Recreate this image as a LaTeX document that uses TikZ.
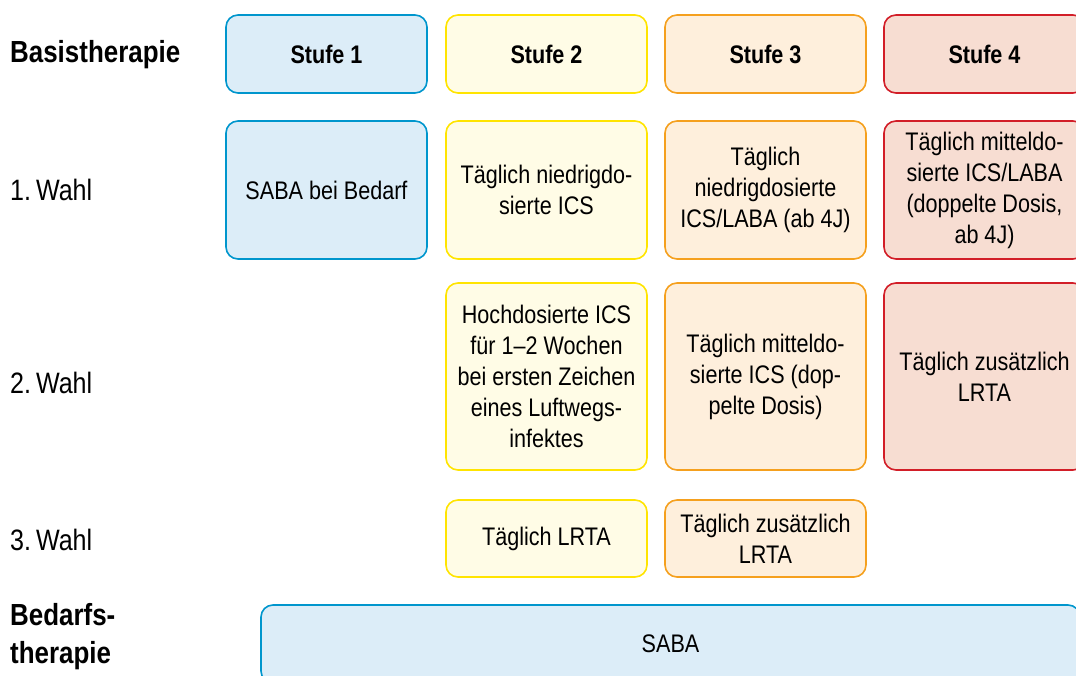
\documentclass[tikz,border=0pt]{standalone}
\usepackage{fontspec}
\setmainfont{Liberation Sans}[FakeStretch=0.85]
\usepackage{tikz}
\definecolor{stufeblue}{RGB}{0,150,205}
\definecolor{stufeyellow}{RGB}{255,228,0}
\definecolor{stufeorange}{RGB}{245,160,30}
\definecolor{stufered}{RGB}{210,30,40}
\definecolor{fillblue}{RGB}{220,237,248}
\definecolor{fillyellow}{RGB}{255,252,230}
\definecolor{fillorange}{RGB}{254,239,220}
\definecolor{fillred}{RGB}{247,221,210}

\begin{document}
\begin{tikzpicture}[
        x=1pt, y=-1pt,
        font=\fontsize{25.4}{31}\selectfont,
        box/.style={rectangle, rounded corners=12pt, draw=stufe#1, fill=fill#1, line width=1.6pt, align=center, inner sep=0pt, minimum width=201pt},
        head/.style={box=#1, minimum height=78pt, font=\fontsize{25.4}{31}\selectfont\bfseries},
        rowlabel/.style={anchor=west, align=left, inner sep=0pt, font=\fontsize{29.5}{36}\selectfont},
        title/.style={rowlabel, font=\fontsize{30.5}{38}\selectfont\bfseries}
    ]
        \clip (0,0) rectangle (1076,675);

        % row labels
        \node[title] (basis) at (10,55) {Basistherapie};
        \node[rowlabel] (wahl1) at (10,190) {1.\,Wahl};
        \node[rowlabel] (wahl2) at (10,383) {2.\,Wahl};
        \node[rowlabel] (wahl3) at (10,540) {3.\,Wahl};
        \node[title] (bedarf) at (10,637) {Bedarfs-\\therapie};

        % Stufen
        \node[head=blue] (s1) at (326.5,54) {Stufe 1};
        \node[head=yellow] (s2) at (546.5,54) {Stufe 2};
        \node[head=orange] (s3) at (765.5,54) {Stufe 3};
        \node[head=red] (s4) at (984.5,54) {Stufe 4};

        % 1. Wahl
        \node[box=blue, minimum height=138pt] (a1) at (326.5,190) {SABA bei Bedarf};
        \node[box=yellow, minimum height=138pt] (a2) at (546.5,190) {Täglich niedrigdo-\\sierte ICS};
        \node[box=orange, minimum height=138pt] (a3) at (765.5,190) {Täglich\\niedrigdosierte\\ICS/LABA (ab 4J)};
        \node[box=red, minimum height=138pt] (a4) at (984.5,190) {Täglich mitteldo-\\sierte ICS/LABA\\(doppelte Dosis,\\ab 4J)};

        % 2. Wahl
        \node[box=yellow, minimum height=187pt] (b2) at (546.5,376.5) {Hochdosierte ICS\\für 1--2 Wochen\\bei ersten Zeichen\\eines Luftwegs-\\infektes};
        \node[box=orange, minimum height=187pt] (b3) at (765.5,376.5) {Täglich mitteldo-\\sierte ICS (dop-\\pelte Dosis)};
        \node[box=red, minimum height=187pt] (b4) at (984.5,376.5) {Täglich zusätzlich\\LRTA};

        % 3. Wahl
        \node[box=yellow, minimum height=77pt] (c2) at (546.5,538.5) {Täglich LRTA};
        \node[box=orange, minimum height=77pt] (c3) at (765.5,538.5) {Täglich zusätzlich\\LRTA};

        % Bedarfstherapie
        \node[box=blue, minimum width=819pt, minimum height=78pt] (saba) at (670.5,644) {SABA};
    \end{tikzpicture}
\end{document}
